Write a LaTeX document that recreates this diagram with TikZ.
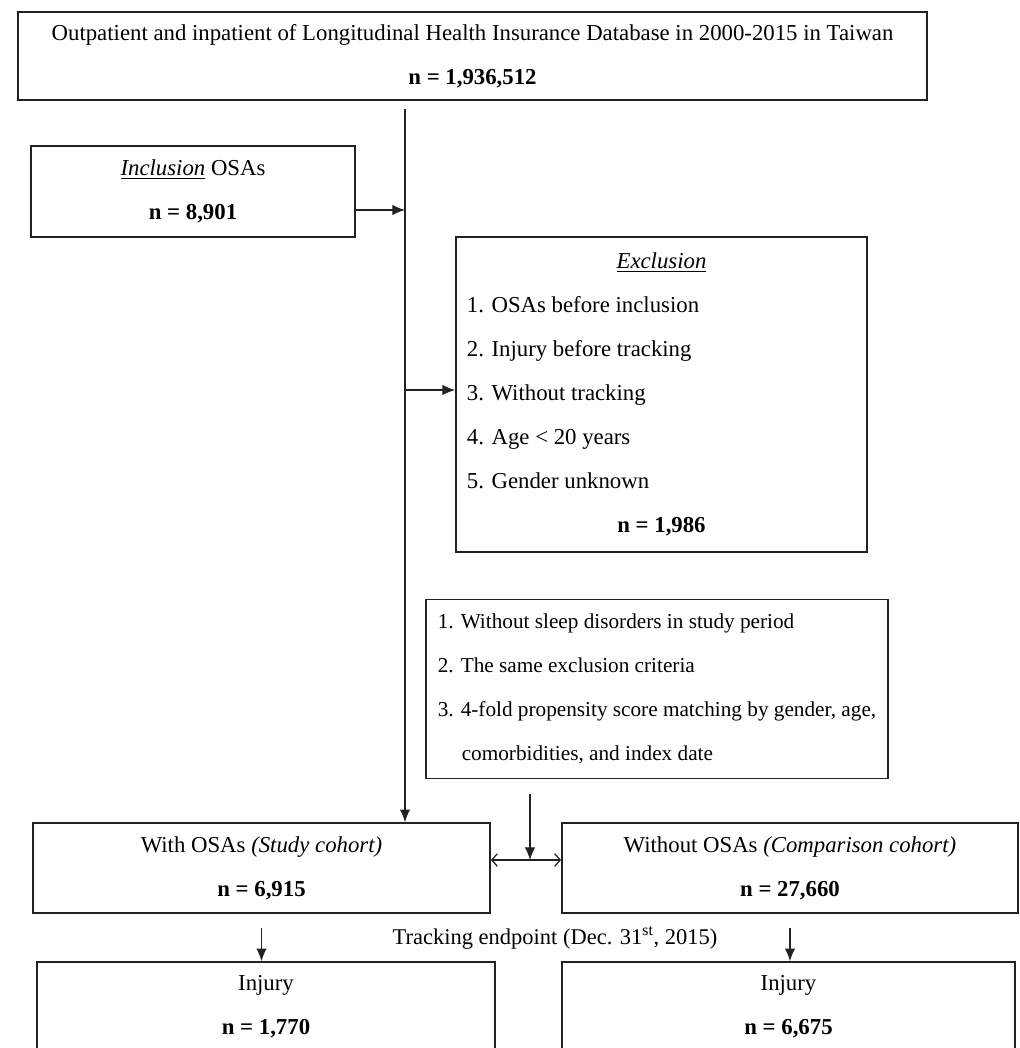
\documentclass[tikz,border=0pt]{standalone}
\usepackage{fontspec}
\setmainfont{Liberation Serif}
\usetikzlibrary{arrows.meta}

\tikzset{
    box/.style={draw=lineColour, line width=1.2pt, inner sep=0pt, align=center,
        font=\fontsize{16.2}{31.3}\selectfont},
    link/.style={draw=lineColour, line width=0.9pt},
    flowarrow/.style={link, -{Latex[length=9pt,width=7.5pt]}},
    pairarrow/.style={link, {Straight Barb[length=4pt,width=9pt]}-{Straight Barb[length=4pt,width=9pt]}}
}

\begin{document}
\begin{tikzpicture}[x=0.025cm, y=-0.025cm]
    \def\spineX{405}

    \definecolor{lineColour}{HTML}{222222}

    \useasboundingbox (0,0) rectangle (1020,1048);

    % Source population
    \node[box, minimum width=22.725cm, minimum height=2.2cm] (source) at (472.5,56)
        {Outpatient and inpatient of Longitudinal Health Insurance Database in 2000-2015 in Taiwan\\
         \textbf{n = 1,936,512}};

    % Inclusion and exclusion
    \node[box, minimum width=8.1cm, minimum height=2.275cm] (inclusion) at (193,191.5)
        {\underline{\textit{Inclusion}} OSAs\\ \textbf{n = 8,901}};

    \node[box, align=flush left, text width=9.725cm, minimum width=10.275cm, minimum height=7.875cm] (exclusion) at (661.5,394.5)
        {\makebox[\linewidth]{\underline{\textit{Exclusion}}}\\
         1. OSAs before inclusion\\
         2. Injury before tracking\\
         3. Without tracking\\
         4. Age < 20 years\\
         5. Gender unknown\\
         \makebox[\linewidth]{\textbf{n = 1,986}}};

    % Matching criteria
    \node[box, align=left, font=\fontsize{15.1}{31.3}\selectfont, minimum width=11.55cm, minimum height=4.475cm] (matching) at (657,689)
        {1. Without sleep disorders in study period\\
         2. The same exclusion criteria\\
         3. 4-fold propensity score matching by gender, age,\\
         \hspace*{0.6cm}comorbidities, and index date};

    % Cohorts
    \node[box, minimum width=11.425cm, minimum height=2.25cm] (withOSA) at (261.5,868)
        {With OSAs \textit{(Study cohort)}\\ \textbf{n = 6,915}};
    \node[box, minimum width=11.4cm, minimum height=2.25cm] (withoutOSA) at (790,868)
        {Without OSAs \textit{(Comparison cohort)}\\ \textbf{n = 27,660}};

    \node[font=\fontsize{16}{31.3}\selectfont] (endpoint) at (555,938)
        {Tracking endpoint (Dec. 31\textsuperscript{st}, 2015)};

    % Outcomes
    \node[box, minimum width=11.45cm, minimum height=2.25cm] (injuryA) at (266,1007)
        {Injury\\ \textbf{n = 1,770}};
    \node[box, minimum width=11.325cm, minimum height=2.25cm] (injuryB) at (788.5,1007)
        {Injury\\ \textbf{n = 6,675}};

    % Joints on the lines
    \coordinate (inclJoin) at (\spineX,210);
    \coordinate (exclJoin) at (\spineX,390);
    \coordinate (pairJoin) at (530,860);

    % Main line
    \draw[flowarrow, shorten <=0.2cm] (source.south -| inclJoin) -- (withOSA.north -| inclJoin);
    \draw[flowarrow] (inclusion.east |- inclJoin) -- (inclJoin);
    \draw[flowarrow] (exclJoin) -- (exclusion.west |- exclJoin);

    % Matching to cohorts
    \draw[flowarrow, shorten <=0.375cm] (matching.south -| pairJoin) -- (pairJoin);
    \draw[pairarrow] (withOSA.east |- pairJoin) -- (withoutOSA.west |- pairJoin);

    % Tracking
    \draw[flowarrow, shorten <=0.35cm] (withOSA.south) -- (withOSA.south |- injuryA.north);
    \draw[flowarrow, shorten <=0.35cm] (withoutOSA.south) -- (withoutOSA.south |- injuryB.north);

\end{tikzpicture}
\end{document}
